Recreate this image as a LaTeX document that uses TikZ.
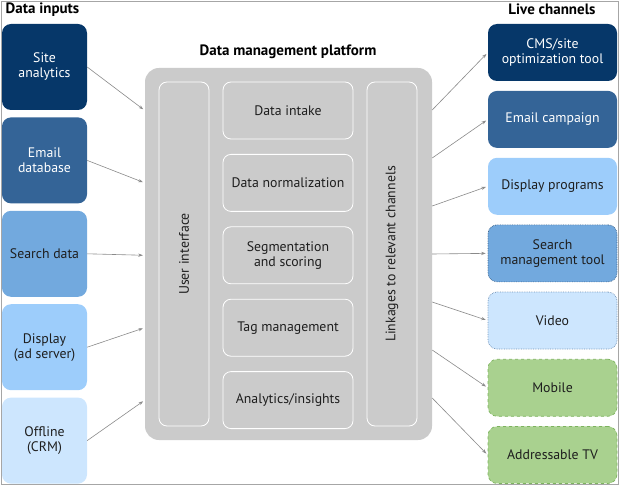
\documentclass[tikz,border=0pt]{standalone}
\usepackage{fontspec}
\setmainfont{PT Sans}
\usetikzlibrary{positioning, arrows.meta, calc}
\definecolor{navy}{HTML}{063769}
\definecolor{steel}{HTML}{346497}
\definecolor{midblue}{HTML}{72A9DE}
\definecolor{skyblue}{HTML}{9DCDFB}
\definecolor{paleblue}{HTML}{CDE6FE}
\definecolor{leaf}{HTML}{A9D18F}
\definecolor{leafline}{HTML}{7DB35E}
\definecolor{dmpgray}{HTML}{CBCBCB}
\definecolor{arrowgray}{HTML}{8A8A8A}
\definecolor{inkgray}{HTML}{1E1E1E}
\tikzset{
  % --- data inputs and live channels ---
  srcbox/.style={rounded corners=9pt, minimum width=85pt, minimum height=86pt,
    align=center, font=\fontsize{13.8}{15}\selectfont, inner sep=2pt, text=inkgray},
  chanbox/.style={srcbox, minimum width=129pt, minimum height=57pt},
  darkbox/.style={text=white},
  % --- platform ---
  dmpframe/.style={fill=dmpgray, rounded corners=14pt, minimum width=287pt,
    minimum height=372pt},
  dmpstep/.style={draw=white, line width=0.8pt, rounded corners=8pt, fill=dmpgray,
    minimum width=130pt, minimum height=57pt, align=center, text=inkgray,
    font=\fontsize{13.8}{15}\selectfont},
  dmpcol/.style={dmpstep, rotate=90, minimum width=344pt, minimum height=50pt},
  % --- headings and connectors ---
  heading/.style={font=\bfseries\fontsize{15}{17}\selectfont, text=black},
  feed/.style={-{Stealth[length=4.5pt, width=3.2pt]}, draw=arrowgray,
    line width=0.6pt, shorten >=2pt},
}

\begin{document}
\begin{tikzpicture}[x=1pt, y=-1pt]
    \useasboundingbox (0,0) rectangle (620,486);
    \draw[gray!70, line width=0.6pt] (1,1) rectangle (618,484);
    % ---- Headings ----
    \node[heading] (intitle) at (42.5,10) {Data inputs};
    \node[heading] (outtitle) at (552,9) {Live channels};
    \node[heading] (dmptitle) at (288,52) {Data management platform};
    % ---- Data inputs ----
    \node[srcbox, fill=navy, darkbox] (site) at (44.5,67) {Site\\analytics};
    \node[srcbox, fill=steel, darkbox, below=7pt of site] (email) {Email\\database};
    \node[srcbox, fill=midblue, below=7pt of email] (search) {Search data};
    \node[srcbox, fill=skyblue, below=7pt of search] (display) {Display\\(ad server)};
    \node[srcbox, fill=paleblue, below=7pt of display] (offline) {Offline\\(CRM)};
    % ---- Platform ----
    \node[dmpframe] (plat) at (288.5,254) {};
    \node[dmpcol] (ui) at (184,254) {User interface};
    \node[dmpcol] (links) at (392,254) {Linkages to relevant channels};
    \node[dmpstep] (intake) at (288,110.5) {Data intake};
    \node[dmpstep, below=14.6pt of intake] (norm) {Data normalization};
    \node[dmpstep, below=14.6pt of norm] (segm) {Segmentation\\and scoring};
    \node[dmpstep, below=14.6pt of segm] (tags) {Tag management};
    \node[dmpstep, below=14.6pt of tags] (insight) {Analytics/insights};
    % ---- Live channels ----
    \node[chanbox, fill=navy, darkbox] (cms) at (552.5,52.5) {CMS/site\\optimization tool};
    \node[chanbox, fill=steel, darkbox, below=9.5pt of cms] (ecamp) {Email campaign};
    \node[chanbox, fill=skyblue, below=9.5pt of ecamp] (dprog) {Display programs};
    \node[chanbox, fill=midblue, draw=navy!80, densely dotted, line width=0.7pt,
      below=9.5pt of dprog] (smt) {Search\\management tool};
    \node[chanbox, fill=paleblue, draw=steel!70, densely dotted, line width=0.7pt,
      below=9.5pt of smt] (video) {Video};
    \node[chanbox, fill=leaf, draw=leafline, dashed, line width=0.7pt,
      below=9.5pt of video] (mobile) {Mobile};
    \node[chanbox, fill=leaf, draw=leafline, dashed, line width=0.7pt,
      below=9.5pt of mobile] (atv) {Addressable TV};
    % ---- Inputs into the platform ----
    \foreach \s/\t in {site/intake, email/norm, search/segm, display/tags, offline/insight}
      \draw[feed] (\s.east) -- (plat.west |- \t);
    % ---- Platform out to the channels ----
    \foreach \i in {1,...,7}
      \coordinate (lk\i) at ($(plat.east)+(0,{(\i-4)*48})$);
    \foreach \c [count=\i] in {cms, ecamp, dprog, smt, video, mobile, atv}
      \draw[feed] (lk\i) -- (\c.west);
\end{tikzpicture}
\end{document}
